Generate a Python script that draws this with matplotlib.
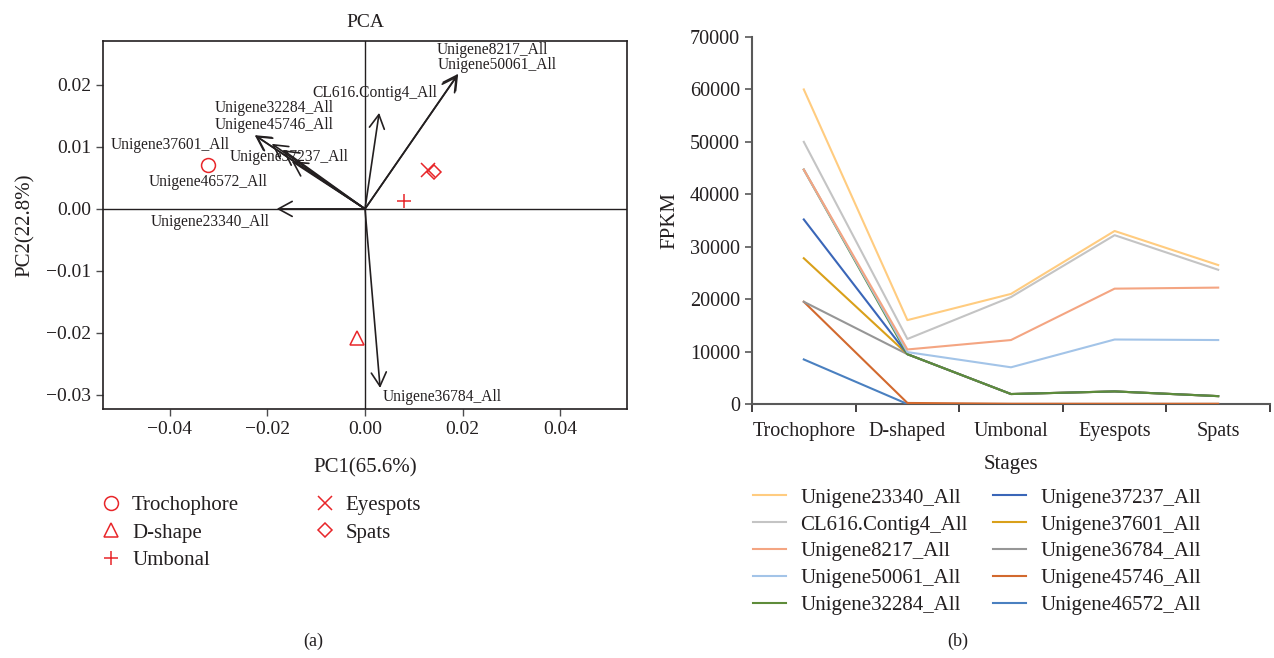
import matplotlib
matplotlib.use("Agg")
import matplotlib.pyplot as plt

plt.rcParams['font.family'] = ['Liberation Serif', 'DejaVu Serif']

# ---------------- PCA data ----------------
stage_names = ["Trochophore", "D-shape", "Umbonal", "Eyespots", "Spats"]
stage_pc1 = [-0.0322, -0.0016, 0.0080, 0.0129, 0.0142]
stage_pc2 = [0.0071, -0.0208, 0.0013, 0.0063, 0.0060]
stage_markers = ["o", "^", "+", "x", "D"]

gene_names = ["Unigene8217_All", "Unigene50061_All", "CL616.Contig4_All",
              "Unigene32284_All", "Unigene45746_All", "Unigene37601_All",
              "Unigene37237_All", "Unigene46572_All", "Unigene23340_All",
              "Unigene36784_All"]
gene_pc1 = [0.0191, 0.0189, 0.0029, -0.0226, -0.0224, -0.0191, -0.0168, -0.0150, -0.0181, 0.0031]
gene_pc2 = [0.0218, 0.0215, 0.0155, 0.0119, 0.0118, 0.0105, 0.0095, 0.0077, 0.0000, -0.0289]
# label anchor (centre) positions in data coordinates
label_x = [0.0261, 0.0271, 0.0021, -0.0187, -0.0187, -0.0400, -0.0156, -0.0322, -0.0318, 0.0158]
label_y = [0.0257, 0.0232, 0.0187, 0.0163, 0.0136, 0.0103, 0.0084, 0.0044, -0.0021, -0.0303]

pca_xticks = [-0.04, -0.02, 0.00, 0.02, 0.04]
pca_yticks = [-0.03, -0.02, -0.01, 0.00, 0.01, 0.02]

# ---------------- FPKM data ----------------
stages = ["Trochophore", "D-shaped", "Umbonal", "Eyespots", "Spats"]
series_names = ["Unigene23340_All", "CL616.Contig4_All", "Unigene8217_All",
                "Unigene50061_All", "Unigene32284_All", "Unigene37237_All",
                "Unigene37601_All", "Unigene36784_All", "Unigene45746_All",
                "Unigene46572_All"]
fpkm = [
    [60000, 16000, 21000, 33000, 26500],
    [50000, 12400, 20400, 32200, 25600],
    [44700, 10400, 12200, 22000, 22200],
    [44700, 9900, 7000, 12300, 12200],
    [44700, 9500, 1900, 2400, 1500],
    [35200, 9500, 1900, 2400, 1500],
    [27800, 9500, 1900, 2400, 1500],
    [19500, 9500, 1900, 2400, 1500],
    [19500, 200, 50, 50, 50],
    [8500, 0, 0, 0, 0],
]
series_colors = ["#FFCC80", "#C4C4C4", "#F4A582", "#A3C4E8", "#5E8C3A",
                 "#3A66B8", "#D9A01A", "#969696", "#D2692E", "#4A80C0"]
fpkm_yticks = [0, 10000, 20000, 30000, 40000, 50000, 60000, 70000]

red = "#E8262A"
txtc = "#231F20"

fig = plt.figure(figsize=(12.74, 6.58), dpi=100)

# ================= Panel (a) =================
ax = fig.add_axes([103/1274, 1-409/658, (627-103)/1274, (409-41)/658])
ax.set_xlim(-0.0537, 0.0537)
ax.set_ylim(-0.0323, 0.0271)
ax.axhline(0, color="#231F20", lw=1.0, zorder=1)
ax.axvline(0, color="#231F20", lw=1.0, zorder=1)

for gx, gy, lx, ly, name in zip(gene_pc1, gene_pc2, label_x, label_y, gene_names):
    ax.annotate("", xy=(gx, gy), xytext=(0, 0),
                arrowprops=dict(arrowstyle="->,head_length=0.55,head_width=0.3",
                                color="#231F20", lw=1.2, shrinkA=0, shrinkB=0,
                                mutation_scale=18), zorder=3)
    ax.text(lx, ly, name, ha="center", va="center", fontsize=11.2, color=txtc, zorder=4)

for sx, sy, m, name in zip(stage_pc1, stage_pc2, stage_markers, stage_names):
    if m in ("+", "x"):
        ax.plot([sx], [sy], linestyle="none", marker=m, color=red, markersize=10,
                markeredgewidth=1.1, label=name, zorder=5)
    else:
        ax.plot([sx], [sy], linestyle="none", marker=m, markerfacecolor="none",
                markeredgecolor=red, markersize=10 if m != "D" else 7.5,
                markeredgewidth=1.1, label=name, zorder=5)

ax.set_xticks(pca_xticks)
ax.set_xticklabels([("\u2212%.2f" % abs(v)) if v < 0 else "%.2f" % v for v in pca_xticks])
ax.set_yticks(pca_yticks)
ax.set_yticklabels([("\u2212%.2f" % abs(v)) if v < 0 else "%.2f" % v for v in pca_yticks])
ax.tick_params(direction="out", length=5, width=1.0, labelsize=14, colors="#4D4D4F",
               labelcolor=txtc, top=False, right=False)
for sp in ax.spines.values():
    sp.set_color("#231F20")
    sp.set_linewidth(1.2)
ax.set_title("PCA", fontsize=14, color=txtc, pad=10)
ax.set_xlabel("PC1(65.6%)", fontsize=15, color=txtc, labelpad=15)
ax.set_ylabel("PC2(22.8%)", fontsize=15, color=txtc, labelpad=8)

ax.legend(loc="upper left", bbox_to_anchor=(-0.04, -0.184), ncol=2, frameon=False,
          fontsize=15, handletextpad=0.5, columnspacing=3.6, labelspacing=0.38,
          handlelength=1.0, labelcolor=txtc)

# ================= Panel (b) =================
bx = fig.add_axes([752/1274, 1-404/658, (1270-752)/1274, (404-37)/658])
xpos = list(range(len(stages)))
for vals, col, name, z in zip(fpkm, series_colors, series_names, range(len(series_names), 0, -1)):
    bx.plot(xpos, vals, color=col, lw=1.5, label=name, zorder=z + 2)
bx.set_xlim(-0.5, len(stages) - 0.5)
bx.set_ylim(0, 70000)
bx.set_yticks(fpkm_yticks)
bx.set_xticks(xpos)
bx.set_xticklabels(stages)
bx.set_xticks([i - 0.5 for i in range(len(stages) + 1)], minor=True)
bx.tick_params(axis="x", which="major", length=0, labelsize=14.5, labelcolor=txtc, pad=13)
bx.tick_params(axis="x", which="minor", length=6, width=1.2, direction="out", color="#231F20")
bx.tick_params(axis="y", direction="out", length=5, width=1.2, labelsize=14.5,
               labelcolor=txtc, color="#595959")
bx.spines["top"].set_visible(False)
bx.spines["right"].set_visible(False)
bx.spines["left"].set_color("#595959")
bx.spines["bottom"].set_color("#595959")
bx.spines["left"].set_linewidth(1.5)
bx.spines["bottom"].set_linewidth(1.5)
bx.set_xlabel("Stages", fontsize=15, color=txtc, labelpad=10)
bx.set_ylabel("FPKM", fontsize=15, color=txtc, labelpad=8)

bx.legend(loc="upper left", bbox_to_anchor=(-0.035, -0.178), ncol=2, frameon=False,
          fontsize=15, handlelength=1.6, handletextpad=0.7, columnspacing=1.2,
          labelspacing=0.35, labelcolor=txtc)

fig.text(313/1274, 1-641/658, "(a)", ha="center", va="center", fontsize=13, color=txtc)
fig.text(958/1274, 1-641/658, "(b)", ha="center", va="center", fontsize=13, color=txtc)

fig.savefig("out.png", dpi=100)
